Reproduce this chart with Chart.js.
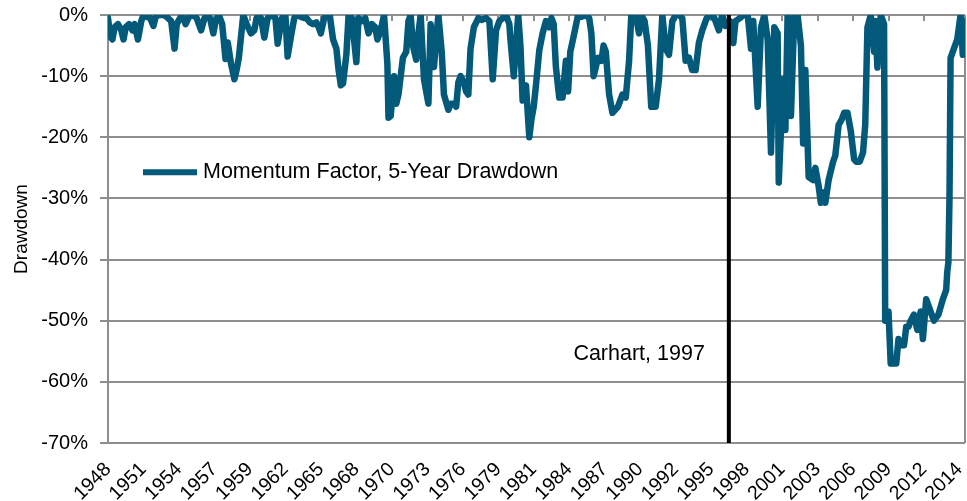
<!DOCTYPE html>
<html>
<head>
<meta charset="utf-8">
<script src="https://cdn.jsdelivr.net/npm/chart.js@4.4.1/dist/chart.umd.min.js"></script>
<style>
  body { margin: 0; background: #fff; }
  #wrap { width: 967px; height: 501px; position: relative; }
</style>
</head>
<body>
<div id="wrap"><canvas id="ddChart"></canvas></div>
<script>
// months since the start of the series (monthly data)
const months = [
  0, 2, 4, 6, 9, 12, 14, 16, 19, 22, 24, 27, 30, 32, 35, 38, 41, 43, 46, 50,
  53, 57, 60, 62, 65, 68, 70, 73, 77, 80, 84, 87, 89, 92, 95, 97, 100, 103, 106, 108,
  111, 114, 116, 118, 122, 125, 129, 132, 134, 138, 141, 144, 148, 151, 153, 157, 160, 162, 165, 168,
  170, 174, 177, 179, 182, 185, 188, 190, 192, 195, 197, 200, 203, 206, 208, 210, 212, 215, 217, 220,
  224, 226, 229, 232, 235, 238, 241, 243, 246, 249, 252, 253, 255, 258, 260, 262, 266, 269, 271, 273,
  275, 278, 280, 282, 285, 289, 291, 294, 297, 298, 301, 303, 307, 309, 312, 314, 316, 318, 321, 323,
  325, 327, 330, 334, 337, 341, 344, 347, 350, 353, 356, 359, 362, 363, 366, 370, 372, 374, 377, 380,
  382, 384, 386, 389, 392, 395, 398, 400, 402, 404, 407, 410, 413, 415, 417, 420, 424, 427, 431, 434,
  436, 438, 442, 445, 447, 449, 452, 455, 460, 464, 467, 470, 472, 474, 476, 479, 481, 484, 487, 490,
  494, 497, 500, 503, 506, 509, 512, 515, 518, 521, 524, 527, 530, 533, 536, 540, 544, 547, 551, 554,
  557, 561, 564, 566, 570, 573, 577, 580, 582, 586, 589, 592, 595, 598, 601, 604, 605, 609, 611, 613,
  616, 619, 622, 625, 627, 629, 632, 636, 638, 641, 643, 645, 647, 650, 654, 656, 659, 662, 664, 667,
  670, 673, 675, 678, 681, 683, 685, 688, 691, 692, 694, 697, 700, 701, 704, 706, 709, 711, 713, 715,
  718, 720, 722, 724, 727, 730, 733, 735, 738, 740, 742, 745, 747, 749, 753, 756, 757, 758, 759, 760,
  763, 766, 769, 771, 772
];

// momentum factor, 5-year drawdown, in percent
const drawdown = [
  -0.5, -3.5, -4, -2, -1.5, -2.5, -4, -2, -1.5, -2.5, -1.5, -4, -1, 0, -0.3, -0.5, -1.8, -0.3, 0, 0,
  -0.3, -1, -5.5, -1.5, -0.5, -0.5, -1.5, -0.3, 0, -0.5, -2.5, -0.5, 0, -0.5, -3, -1, 0, -1.5, -7.2, -4.5,
  -8, -10.5, -9, -7, 0, -1.5, -3, -2.5, -0.5, -0.5, -3.7, -0.5, 0, -0.5, -4.7, -0.5, 0, -6.8, -3.5, -0.5,
  0, -0.3, -0.5, -0.5, -1.2, -1.5, -1.2, -2, -3, -0.5, 0, 0, -4, -5.5, -9, -11.5, -11.2, -6.5, 0, -0.5,
  -7.7, -0.5, -1, -0.5, -3, -1.5, -2, -4, -2.5, 0, -8, -16.8, -16.5, -10, -14.5, -13, -7, -6, -1, 0,
  -5, -7.3, -3, 0, -10.5, -14.5, -1.5, -8.5, -2, 0, -6, -13, -15.5, -14.5, -14.5, -15, -11, -10, -11, -12.5,
  -13, -5.5, -2, -0.5, -0.8, -0.5, -1, -10.5, -2.5, -1, -0.5, 0, -1.5, -4, -10, 0, -5, -14, -11.5, -20,
  -17, -15, -11.5, -5.8, -3, -1, -2, -0.5, -1.5, -8.5, -13.5, -13.5, -7.5, -12.5, -6, -3.5, 0, -0.3, 0, -0.5,
  -3, -10, -7, -7.5, -5, -6, -13, -16, -15, -13, -13.5, -7.5, 0, -0.5, 0, -3, 0, -1, -5, -15,
  -15, -10.5, 0, -5.5, -6.5, -1, 0, 0, -0.5, -7.5, -7, -9, -9, -4.5, -2.5, -0.5, 0, -0.5, -2.5, 0,
  -1.8, -1, -4.6, -1, -0.5, 0, 0, -5.5, -1, -15, -2, 0, -4, -22.5, -2, -3, -27.4, -10.5, -18.8, 0,
  -16.5, 0, 0, -5, -21, -9, -26.5, -27, -25, -28, -30.7, -29, -30.7, -27, -24, -23, -18, -17, -16, -16,
  -19, -23.6, -24, -24, -22.5, -18, -2, 0, -6, -1, -8.6, 0, -1.5, -50, -48.5, -57, -57, -57, -53, -54,
  -54, -51, -51, -50, -49, -51.5, -48.5, -53, -46.5, -47.5, -48.5, -50, -49.5, -49, -46.5, -45, -42, -40.5, -30, -7,
  -5.5, -4, 0, -6.5, -1
];

// category-axis labels, one every 32 months
const tickMonths = [0, 32, 64, 96, 128, 160, 192, 224, 256, 288, 320, 352, 384, 416, 448, 480, 512, 544, 576, 608, 640, 672, 704, 736, 768];
const yearLabels = ['1948', '1951', '1954', '1957', '1959', '1962', '1965', '1968', '1970', '1973', '1976', '1979', '1981',
  '1984', '1987', '1990', '1992', '1995', '1998', '2001', '2003', '2006', '2009', '2012', '2014'];
const yTicks = [0, -10, -20, -30, -40, -50, -60, -70];

const carhartMonth = 560;
const carhartText = 'Carhart, 1997';
const seriesName = 'Momentum Factor, 5-Year Drawdown';

const lineColor = '#03597a';
const gridColor = '#8e8e8e';

Chart.defaults.font.family = '"Liberation Sans", Arial, sans-serif';
Chart.defaults.color = '#000';

// top tick marks, right border, Carhart marker and the legend inside the plot
const extras = {
  id: 'extras',
  beforeDatasetsDraw(chart) {
    const ctx = chart.ctx;
    const area = chart.chartArea;
    const xs = chart.scales.x;
    ctx.save();
    ctx.strokeStyle = gridColor;
    ctx.lineWidth = 2;
    ctx.beginPath();
    tickMonths.forEach(m => {
      const px = Math.round(xs.getPixelForValue(m));
      ctx.moveTo(px, area.top);
      ctx.lineTo(px, area.top + 6);
    });
    ctx.moveTo(area.right, area.top);
    ctx.lineTo(area.right, area.bottom);
    ctx.stroke();
    ctx.restore();
  },
  afterDatasetsDraw(chart) {
    const ctx = chart.ctx;
    const area = chart.chartArea;
    const xs = chart.scales.x;
    const ys = chart.scales.y;
    ctx.save();
    const cx = xs.getPixelForValue(carhartMonth);
    ctx.strokeStyle = '#000';
    ctx.lineWidth = 4;
    ctx.beginPath();
    ctx.moveTo(cx, area.top);
    ctx.lineTo(cx, area.bottom);
    ctx.stroke();

    ctx.font = '21.5px "Liberation Sans", Arial, sans-serif';
    ctx.fillStyle = '#000';
    ctx.textAlign = 'right';
    ctx.textBaseline = 'middle';
    ctx.fillText(carhartText, cx - 24, ys.getPixelForValue(-55.5));

    // legend
    const ly = ys.getPixelForValue(-25.7);
    ctx.strokeStyle = lineColor;
    ctx.lineWidth = 6;
    ctx.beginPath();
    ctx.moveTo(area.left + 35, ly);
    ctx.lineTo(area.left + 89, ly);
    ctx.stroke();
    ctx.textAlign = 'left';
    ctx.fillText(seriesName, area.left + 95, ly);
    ctx.restore();
  }
};

new Chart(document.getElementById('ddChart'), {
  type: 'line',
  data: {
    datasets: [{
      label: seriesName,
      data: months.map((m, i) => ({ x: m, y: drawdown[i] })),
      borderColor: lineColor,
      backgroundColor: lineColor,
      borderWidth: 6.5,
      pointRadius: 0,
      tension: 0,
      borderJoinStyle: 'round',
      borderCapStyle: 'round'
    }]
  },
  options: {
    responsive: true,
    maintainAspectRatio: false,
    animation: false,
    layout: { padding: { top: 15, right: 2, left: 0, bottom: 0 } },
    plugins: {
      legend: { display: false },
      tooltip: { enabled: false }
    },
    scales: {
      x: {
        type: 'linear',
        min: 0,
        max: 773,
        afterBuildTicks(scale) {
          scale.ticks = tickMonths.map(v => ({ value: v }));
        },
        afterFit(scale) {
          scale.height = 58;
          scale.paddingLeft = 0;
          scale.paddingRight = 0;
        },
        grid: { display: false },
        border: { display: false },
        ticks: {
          autoSkip: false,
          minRotation: 45,
          maxRotation: 45,
          padding: 7,
          font: { size: 19.5 },
          callback(value) {
            const k = tickMonths.indexOf(value);
            return k >= 0 ? yearLabels[k] : '';
          }
        }
      },
      y: {
        min: -70,
        max: 0,
        afterBuildTicks(scale) {
          scale.ticks = yTicks.map(v => ({ value: v }));
        },
        afterFit(scale) {
          scale.width = 108;
          scale.paddingTop = 0;
          scale.paddingBottom = 0;
        },
        grid: {
          color: gridColor,
          lineWidth: 2,
          tickLength: 8
        },
        border: { color: gridColor, width: 2 },
        ticks: {
          padding: 12,
          font: { size: 20 },
          callback: v => v + '%'
        },
        title: {
          display: true,
          text: 'Drawdown',
          font: { size: 19 },
          padding: { top: 10, bottom: 2 }
        }
      }
    }
  },
  plugins: [extras]
});
</script>
</body>
</html>
